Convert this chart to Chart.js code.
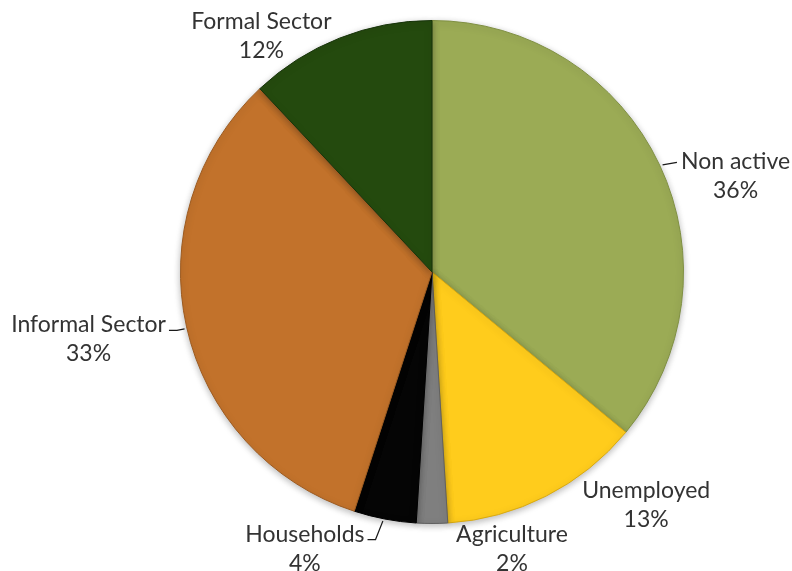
<!DOCTYPE html>
<html>
<head>
<meta charset="utf-8">
<script src="https://cdn.jsdelivr.net/npm/chart.js@4"></script>
<style>
  html, body { margin: 0; padding: 0; background: #fff; }
  #wrap { width: 792px; height: 571px; }
</style>
</head>
<body>
<div id="wrap"><canvas id="pieChart" width="792" height="571"></canvas></div>
<script>
// employment status shares, clockwise from 12 o'clock
const categories = ['Non active', 'Unemployed', 'Agriculture', 'Households', 'Informal Sector', 'Formal Sector'];
const shares = [36, 13, 2, 4, 33, 12];

const sliceColors = ['#9bab55', '#ffcc1c', '#7f7f7f', '#050505', '#c2722b', '#244a0e'];
const sliceEdges = ['#7f8f42', '#d9a90f', '#606060', '#000000', '#9c5a1f', '#17330a'];

// label baseline offset from the slice's outer mid point, and whether it gets a leader line
const labelLayout = [
  { dx: 76, dy: 4.5, leader: 'straight' },
  { dx: 100, dy: 2, leader: null },
  { dx: 80, dy: 18, leader: null },
  { dx: -80, dy: 22.5, leader: 'hook' },
  { dx: -98, dy: 5.5, leader: 'hook' },
  { dx: -78, dy: -9.5, leader: null }
];

const FONT = '23px Lato, "Open Sans", sans-serif';
const LINE = 29;

const pieShadow = {
  id: 'pieShadow',
  beforeDatasetsDraw(chart) {
    const ctx = chart.ctx;
    ctx.save();
    ctx.shadowColor = 'rgba(0,0,0,0.28)';
    ctx.shadowBlur = 7;
    ctx.shadowOffsetY = 2;
  },
  afterDatasetsDraw(chart) {
    chart.ctx.restore();
  }
};

const outsideLabels = {
  id: 'outsideLabels',
  afterDraw(chart) {
    const ctx = chart.ctx;
    const arcs = chart.getDatasetMeta(0).data;
    ctx.save();
    ctx.font = FONT;
    ctx.fillStyle = '#333333';
    ctx.strokeStyle = '#1a1a1a';
    ctx.lineWidth = 1.2;
    ctx.textAlign = 'center';
    ctx.textBaseline = 'alphabetic';
    arcs.forEach((arc, i) => {
      const p = arc.getProps(['x', 'y', 'startAngle', 'endAngle', 'outerRadius'], true);
      const mid = (p.startAngle + p.endAngle) / 2;
      const ax = p.x + Math.cos(mid) * p.outerRadius;
      const ay = p.y + Math.sin(mid) * p.outerRadius;
      const lay = labelLayout[i];
      const tx = ax + lay.dx;
      const ty = ay + lay.dy;
      const name = categories[i];
      const pct = shares[i] + '%';
      ctx.fillText(name, tx, ty);
      ctx.fillText(pct, tx, ty + LINE);

      const w = ctx.measureText(name).width;
      ctx.beginPath();
      if (lay.leader === 'straight') {
        ctx.moveTo(ax + 3, ay);
        ctx.lineTo(tx - w / 2 - 4, ty - 7);
      } else if (lay.leader === 'hook') {
        const ex = tx + w / 2 + 3;
        const ey = ty - 2;
        ctx.moveTo(ex, ey);
        ctx.lineTo(ex + 8, ey);
        ctx.lineTo(ax - 2, ay + 2);
      }
      ctx.stroke();
    });
    ctx.restore();
  }
};

new Chart(document.getElementById('pieChart'), {
  type: 'pie',
  data: {
    labels: categories,
    datasets: [{
      data: shares,
      backgroundColor: sliceColors,
      borderColor: sliceEdges,
      borderWidth: 1
    }]
  },
  options: {
    responsive: false,
    animation: false,
    layout: { padding: { left: 180, right: 108, top: 20, bottom: 47 } },
    plugins: {
      legend: { display: false },
      tooltip: { enabled: false }
    }
  },
  plugins: [pieShadow, outsideLabels]
});
</script>
</body>
</html>
